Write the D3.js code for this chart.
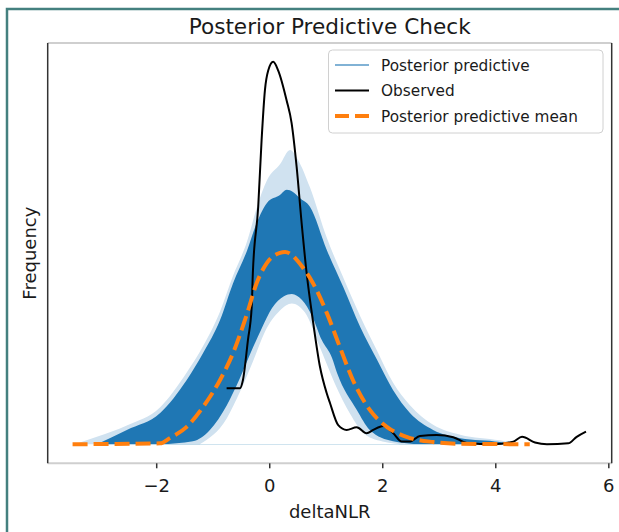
<!DOCTYPE html>
<html>
<head>
<meta charset="utf-8">
<script src="https://cdn.jsdelivr.net/npm/d3@7"></script>
<style>
body { margin: 0; background: #fff; }
text { font-family: "DejaVu Sans", sans-serif; fill: #1a1a1a; }
</style>
</head>
<body>
<div class="ppc"></div>
<script>
// Posterior predictive check (deltaNLR, density)
var observed = [
    [-0.754, 0.129], [-0.519, 0.129], [-0.465, 0.148], [-0.377, 0.240], [-0.31, 0.317],
    [-0.29, 0.394], [-0.195, 0.547], [-0.135, 0.701], [-0.076, 0.816], [-0.018, 0.861],
    [0.071, 0.881], [0.159, 0.861], [0.308, 0.792], [0.396, 0.740], [0.485, 0.639],
    [0.573, 0.510], [0.662, 0.394], [0.779, 0.279], [0.897, 0.179], [1.016, 0.118],
    [1.075, 0.095], [1.221, 0.044], [1.370, 0.033], [1.547, 0.039], [1.724, 0.025],
    [1.841, 0.033], [2.018, 0.042], [2.195, 0.025], [2.343, 0.006], [2.490, 0.006],
    [2.667, 0.019], [2.963, 0.021], [3.257, 0.016], [3.494, 0.003], [3.965, 0.000],
    [4.319, 0.006], [4.473, 0.017], [4.703, 0.004], [4.915, 0.000], [5.292, 0.002],
    [5.441, 0.017], [5.605, 0.029]
];

var ppMean = [
    [-3.48, 0.0], [-1.93, 0.002], [-1.76, 0.014], [-1.46, 0.040], [-1.17, 0.086],
    [-0.87, 0.148], [-0.64, 0.210], [-0.39, 0.302], [-0.22, 0.372], [-0.04, 0.418],
    [0.19, 0.441], [0.28, 0.443], [0.60, 0.406], [0.77, 0.372], [1.02, 0.302],
    [1.25, 0.224], [1.48, 0.148], [1.78, 0.079], [2.08, 0.040], [2.43, 0.017],
    [2.90, 0.005], [3.38, 0.001], [4.61, 0.0]
];

// envelope of the posterior predictive draws
var ppOuter = [
    [-3.44, 0.0], [-3.05, 0.017], [-2.52, 0.043], [-1.93, 0.085], [-1.46, 0.165],
    [-1.17, 0.226], [-0.87, 0.306], [-0.64, 0.388], [-0.39, 0.468], [-0.22, 0.545],
    [-0.04, 0.608], [0.19, 0.645], [0.37, 0.678], [0.51, 0.655], [0.72, 0.592],
    [1.02, 0.475], [1.31, 0.384], [1.61, 0.295], [1.91, 0.215], [2.19, 0.142],
    [2.49, 0.090], [2.90, 0.045], [3.38, 0.022], [4.08, 0.009], [4.44, 0.0]
];

var ppUpper = [
    [-3.05, 0.0], [-2.52, 0.033], [-1.93, 0.072], [-1.46, 0.148], [-1.17, 0.210],
    [-0.87, 0.286], [-0.64, 0.371], [-0.39, 0.447], [-0.22, 0.510], [-0.04, 0.556],
    [0.19, 0.574], [0.31, 0.586], [0.42, 0.581], [0.54, 0.567], [0.72, 0.547],
    [1.02, 0.447], [1.31, 0.362], [1.61, 0.270], [1.91, 0.194], [2.19, 0.125],
    [2.49, 0.072], [2.90, 0.033], [3.38, 0.014], [4.08, 0.005], [4.26, 0.0]
];

var ppLower = [
    [-1.93, 0.0], [-1.35, 0.007], [-1.05, 0.033], [-0.75, 0.090], [-0.52, 0.152],
    [-0.29, 0.222], [-0.13, 0.268], [0.05, 0.314], [0.26, 0.341], [0.40, 0.346],
    [0.58, 0.332], [0.76, 0.295], [0.93, 0.240], [1.11, 0.199], [1.20, 0.164],
    [1.55, 0.079], [1.78, 0.033], [2.19, 0.007], [2.67, 0.0]
];

var ppInner = [
    [-1.23, 0.0], [-0.75, 0.060], [-0.52, 0.120], [-0.29, 0.190], [-0.08, 0.258],
    [0.19, 0.308], [0.40, 0.324], [0.63, 0.304], [0.90, 0.222], [1.16, 0.140],
    [1.43, 0.070], [1.69, 0.023], [2.05, 0.005], [2.31, 0.0]
];

var xTicks = [-2, 0, 2, 4, 6];
var legendLabels = ["Posterior predictive", "Observed", "Posterior predictive mean"];

var W = 619, H = 532;
var plot = { left: 47.7, right: 611.7, top: 43, bottom: 463.3 };

var svg = d3.select('.ppc')
    .append('svg')
    .attr("width", W)
    .attr("height", H);

svg.append("rect")
    .attr("width", W).attr("height", H)
    .attr("fill", "#fff");

// teal frame around the figure
svg.append("rect")
    .attr("x", 7).attr("y", 9)
    .attr("width", 700).attr("height", 600)
    .attr("fill", "none")
    .attr("stroke", "#44807f")
    .attr("stroke-width", 2.5);

var x = d3.scaleLinear()
    .domain([-3.92, 6.06])
    .range([plot.left, plot.right]);

var y = d3.scaleLinear()
    .domain([-0.044, 0.9244])
    .range([plot.bottom, plot.top]);

var area = d3.area()
    .x(function(d) { return x(d[0]); })
    .y0(y(0))
    .y1(function(d) { return y(d[1]); })
    .curve(d3.curveMonotoneX);

var line = d3.line()
    .x(function(d) { return x(d[0]); })
    .y(function(d) { return y(d[1]); })
    .curve(d3.curveMonotoneX);

var g = svg.append("g");

// posterior predictive band
g.append("path").attr("d", area(ppOuter)).attr("fill", "#d0e2f0");
g.append("path").attr("d", area(ppUpper)).attr("fill", "#1f77b4");
g.append("path").attr("d", area(ppLower)).attr("fill", "#cfe1ef");
g.append("path").attr("d", area(ppInner)).attr("fill", "#fff");

g.append("path")
    .attr("d", line(observed))
    .attr("fill", "none")
    .attr("stroke", "#000")
    .attr("stroke-width", 2);

g.append("path")
    .attr("d", line(ppMean))
    .attr("fill", "none")
    .attr("stroke", "#ff7f0e")
    .attr("stroke-width", 4)
    .attr("stroke-dasharray", "15,6");

// spines
svg.append("line").attr("x1", plot.left).attr("x2", plot.right).attr("y1", plot.top).attr("y2", plot.top)
    .attr("stroke", "#cfcfcf").attr("stroke-width", 2);
svg.append("line").attr("x1", plot.left).attr("x2", plot.right).attr("y1", plot.bottom).attr("y2", plot.bottom)
    .attr("stroke", "#cfcfcf").attr("stroke-width", 2);
svg.append("line").attr("x1", plot.left).attr("x2", plot.left).attr("y1", plot.top).attr("y2", plot.bottom)
    .attr("stroke", "#333").attr("stroke-width", 1.5);
svg.append("line").attr("x1", plot.right).attr("x2", plot.right).attr("y1", plot.top).attr("y2", plot.bottom)
    .attr("stroke", "#333").attr("stroke-width", 1.5);

var xAxis = d3.axisBottom(x)
    .tickValues(xTicks)
    .tickSize(5)
    .tickPadding(11);

var ax = svg.append("g")
    .attr("transform", "translate(0," + plot.bottom + ")")
    .call(xAxis);
ax.select(".domain").remove();
ax.selectAll(".tick line").attr("stroke", "#333").attr("stroke-width", 1.5);
ax.selectAll(".tick text")
    .attr("font-size", 18)
    .attr("font-family", "DejaVu Sans")
    .attr("fill", "#1a1a1a");

svg.append("text")
    .attr("x", (plot.left + plot.right) / 2)
    .attr("y", 34)
    .attr("text-anchor", "middle")
    .attr("font-size", 21.6)
    .text("Posterior Predictive Check");

svg.append("text")
    .attr("x", (plot.left + plot.right) / 2)
    .attr("y", 518)
    .attr("text-anchor", "middle")
    .attr("font-size", 18)
    .text("deltaNLR");

svg.append("text")
    .attr("transform", "translate(36," + (plot.top + plot.bottom) / 2 + ") rotate(-90)")
    .attr("text-anchor", "middle")
    .attr("font-size", 18)
    .text("Frequency");

// legend
var legend = svg.append("g");
legend.append("rect")
    .attr("x", 328.5).attr("y", 50)
    .attr("width", 274.5).attr("height", 83)
    .attr("rx", 4)
    .attr("fill", "#fff")
    .attr("fill-opacity", 0.8)
    .attr("stroke", "#d0d0d0");

var handleY = [65, 90.5, 116];
var handleStyle = [
    { stroke: "#1f77b4", width: 1.5, dash: null, opacity: 0.75 },
    { stroke: "#000", width: 2, dash: null, opacity: 1 },
    { stroke: "#ff7f0e", width: 4, dash: "14,6", opacity: 1 }
];

legendLabels.forEach(function(lab, i) {
    legend.append("line")
        .attr("x1", 335).attr("x2", 369)
        .attr("y1", handleY[i]).attr("y2", handleY[i])
        .attr("stroke", handleStyle[i].stroke)
        .attr("stroke-width", handleStyle[i].width)
        .attr("stroke-opacity", handleStyle[i].opacity)
        .attr("stroke-dasharray", handleStyle[i].dash);
    legend.append("text")
        .attr("x", 381)
        .attr("y", handleY[i] + 5.5)
        .attr("font-size", 15.3)
        .text(lab);
});
</script>
</body>
</html>
